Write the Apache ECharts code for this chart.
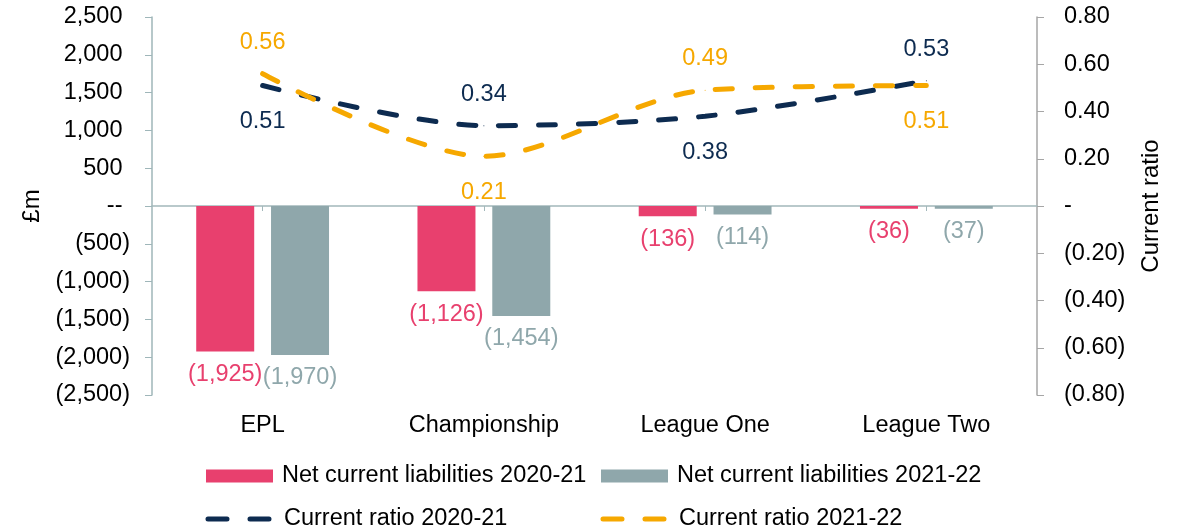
<!DOCTYPE html>
<html lang="en">

<head>
    <meta charset="UTF-8">
    <title>Net current liabilities and current ratio</title>
    <script src="https://cdn.jsdelivr.net/npm/echarts@6/dist/echarts.min.js"></script>
    <style>
        html, body { margin: 0; padding: 0; background: #fff; }
    </style>
</head>

<body>
    <div id="main" style="width: 1186px; height: 529px;"></div>
    <script>
    // data
    const leagues = ['EPL', 'Championship', 'League One', 'League Two']
    const liab2021 = [-1925, -1126, -136, -36]
    const liab2122 = [-1970, -1454, -114, -37]
    const ratio2021 = [0.51, 0.34, 0.38, 0.53]
    const ratio2122 = [0.56, 0.21, 0.49, 0.51]

    // where each ratio label sits relative to its point
    const ratio2021Pos = ['bottom', 'top', 'bottom', 'top']
    const ratio2122Pos = ['top', 'bottom', 'top', 'bottom']

    const FONT = '"Liberation Sans", Arial, sans-serif'
    const FS = 23.5
    const RED = '#E8406E'
    const GREY = '#8FA7AB'
    const NAVY = '#0D2B50'
    const ORANGE = '#F6A800'

    function fmtMoney(v) {
        const s = Math.abs(v).toLocaleString('en-US')
        if (v < 0) return '(' + s + ')'
        if (v === 0) return '{p|--}'
        return '{p|' + s + '}'
    }
    function fmtRatio(v) {
        if (Math.abs(v) < 1e-9) return '-'
        const s = Math.abs(v).toFixed(2)
        return v < 0 ? '(' + s + ')' : s
    }
    function withPos(values, pos) {
        return values.map(function (v, i) {
            return { value: v, label: { position: pos[i], distance: pos[i] === 'top' ? 19 : 24 } }
        })
    }

    const myChart = echarts.init(document.getElementById('main'))
    const barLabel = function (color) {
        return {
            show: true,
            position: 'bottom',
            distance: 11,
            color: color,
            fontSize: FS,
            fontFamily: FONT,
            formatter: function (p) { return fmtMoney(p.value) }
        }
    }
    const lineSeries = function (name, values, pos, color) {
        return {
            name: name,
            type: 'line',
            yAxisIndex: 1,
            data: withPos(values, pos),
            smooth: 0.3,
            symbol: 'circle',
            symbolSize: 1,
            z: 5,
            itemStyle: { color: color },
            lineStyle: { color: color, width: 5, type: [17, 23], cap: 'round' },
            label: {
                show: true,
                color: color,
                fontSize: FS,
                fontFamily: FONT,
                lineHeight: 24,
                formatter: function (p) { return p.value.toFixed(2) }
            }
        }
    }

    const legendText = { fontSize: FS, fontFamily: FONT, color: '#000', padding: [0, 0, 0, 4] }
    function barLegend(name, left) {
        return {
            data: [name], left: left, top: 464, padding: 0,
            icon: 'rect',
            itemWidth: 67, itemHeight: 13, textStyle: legendText
        }
    }
    function lineLegend(name, left) {
        return {
            data: [name], left: left, top: 507, padding: 0,
            itemWidth: 67, itemHeight: 13,
            itemStyle: { opacity: 0 },
            lineStyle: { width: 5, type: [19, 23], cap: 'round' },
            textStyle: legendText
        }
    }

    const option = {
        animation: false,
        backgroundColor: '#fff',
        textStyle: { fontFamily: FONT },
        grid: { left: 152, right: 149, top: 17, bottom: 134 },
        legend: [
            barLegend('Net current liabilities 2020-21', 206),
            barLegend('Net current liabilities 2021-22', 601),
            lineLegend('Current ratio 2020-21', 205.5),
            lineLegend('Current ratio 2021-22', 600.5)
        ],
        xAxis: [{
            type: 'category',
            data: leagues,
            axisLine: { show: false, onZero: false },
            axisTick: { show: false },
            axisLabel: { color: '#000', fontSize: FS, fontFamily: FONT, margin: 19 }
        }, {
            type: 'category',
            data: leagues,
            position: 'bottom',
            axisLine: { show: true, onZero: true, onZeroAxisIndex: 0, lineStyle: { color: '#A3B8BB', width: 1.5 } },
            axisTick: { show: true, alignWithLabel: true, length: 5, lineStyle: { color: '#A3B8BB' } },
            axisLabel: { show: false }
        }],
        yAxis: [{
            type: 'value',
            min: -2500,
            max: 2500,
            interval: 500,
            name: '£m',
            nameLocation: 'middle',
            nameGap: 108,
            nameTextStyle: { color: '#000', fontSize: 24, fontFamily: FONT },
            splitLine: { show: false },
            axisLine: { show: true, lineStyle: { color: '#9FB6B9', width: 1.5 } },
            axisTick: { show: true, length: 7, lineStyle: { color: '#9FB6B9' } },
            axisLabel: {
                color: '#000',
                fontSize: FS,
                fontFamily: FONT,
                margin: 22,
                formatter: fmtMoney,
                rich: { p: { padding: [0, 7.5, 0, 0] } }
            }
        }, {
            type: 'value',
            min: -0.8,
            max: 0.8,
            interval: 0.2,
            name: 'Current ratio',
            nameLocation: 'middle',
            nameGap: 102,
            nameTextStyle: { color: '#000', fontSize: 24, fontFamily: FONT },
            splitLine: { show: false },
            axisLine: { show: true, lineStyle: { color: '#A6A6A6', width: 1.5 } },
            axisTick: { show: true, length: 7, lineStyle: { color: '#A6A6A6' } },
            axisLabel: {
                color: '#000',
                fontSize: FS,
                fontFamily: FONT,
                margin: 27,
                formatter: fmtRatio
            }
        }],
        series: [{
            name: 'Net current liabilities 2020-21',
            type: 'bar',
            data: liab2021,
            barWidth: 58,
            barGap: '29%',
            itemStyle: { color: RED },
            label: barLabel(RED)
        }, {
            name: 'Net current liabilities 2021-22',
            type: 'bar',
            data: liab2122,
            barWidth: 58,
            barGap: '29%',
            itemStyle: { color: GREY },
            label: barLabel(GREY)
        },
        lineSeries('Current ratio 2020-21', ratio2021, ratio2021Pos, NAVY),
        lineSeries('Current ratio 2021-22', ratio2122, ratio2122Pos, ORANGE)
        ]
    }
    myChart.setOption(option)
    </script>
</body>

</html>
